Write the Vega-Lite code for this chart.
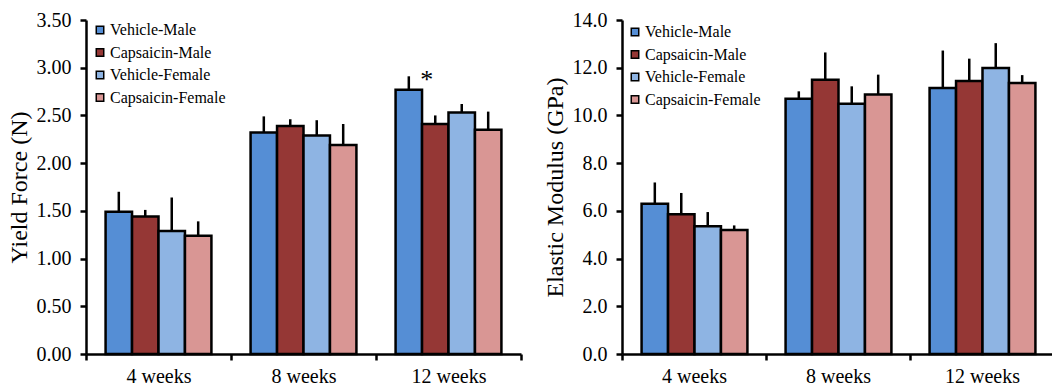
{
  "$schema": "https://vega.github.io/schema/vega-lite/v6.json",
  "background": "white",
  "padding": {"left": 7, "top": 10, "right": 2, "bottom": 0},
  "spacing": 20,
  "config": {
    "view": {"stroke": null},
    "font": "Liberation Serif",
    "axis": {
      "domainColor": "black", "domainWidth": 2.5, "tickColor": "black", "tickWidth": 2.5, "tickSize": 6,
      "labelColor": "black", "titleColor": "black", "labelFont": "Liberation Serif", "titleFont": "Liberation Serif",
      "grid": false, "labelFontSize": 20, "titleFontSize": 24, "titleFontWeight": "normal"
    },
    "legend": {
      "labelFont": "Liberation Serif", "labelFontSize": 16, "labelColor": "black",
      "symbolType": "square", "symbolSize": 56, "symbolStrokeColor": "black", "symbolStrokeWidth": 1.5,
      "rowPadding": 6.5, "padding": 0, "labelOffset": 2, "title": null
    }
  },
  "resolve": {"legend": {"color": "independent"}},
  "hconcat": [
    {
      "width": 435, "height": 334,
      "data": {"values": [
        {"week": "4 weeks", "group": "Vehicle-Male", "value": 1.49, "upper": 1.70},
        {"week": "4 weeks", "group": "Capsaicin-Male", "value": 1.44, "upper": 1.51},
        {"week": "4 weeks", "group": "Vehicle-Female", "value": 1.29, "upper": 1.64},
        {"week": "4 weeks", "group": "Capsaicin-Female", "value": 1.24, "upper": 1.39},
        {"week": "8 weeks", "group": "Vehicle-Male", "value": 2.32, "upper": 2.49},
        {"week": "8 weeks", "group": "Capsaicin-Male", "value": 2.39, "upper": 2.46},
        {"week": "8 weeks", "group": "Vehicle-Female", "value": 2.29, "upper": 2.45},
        {"week": "8 weeks", "group": "Capsaicin-Female", "value": 2.19, "upper": 2.41},
        {"week": "12 weeks", "group": "Vehicle-Male", "value": 2.77, "upper": 2.91},
        {"week": "12 weeks", "group": "Capsaicin-Male", "value": 2.41, "upper": 2.50},
        {"week": "12 weeks", "group": "Vehicle-Female", "value": 2.53, "upper": 2.62},
        {"week": "12 weeks", "group": "Capsaicin-Female", "value": 2.35, "upper": 2.54}
      ]},
      "encoding": {
        "x": {"field": "week", "type": "nominal", "sort": ["4 weeks", "8 weeks", "12 weeks"],
          "scale": {"paddingInner": 0, "paddingOuter": 0},
          "axis": {"title": null, "labelAngle": 0, "tickBand": "extent", "labelPadding": 6}},
        "xOffset": {"field": "group", "type": "nominal",
          "sort": ["Vehicle-Male", "Capsaicin-Male", "Vehicle-Female", "Capsaicin-Female"],
          "scale": {"paddingInner": 0, "paddingOuter": 0.74}}
      },
      "layer": [
        {
          "mark": {"type": "bar", "stroke": "black", "strokeWidth": 2.5},
          "encoding": {
            "y": {"field": "value", "type": "quantitative", "scale": {"domain": [0, 3.5], "nice": false},
              "axis": {"title": "Yield Force (N)", "values": [0, 0.5, 1, 1.5, 2, 2.5, 3, 3.5], "format": ".2f", "labelPadding": 9, "titlePadding": 5}},
            "color": {"field": "group", "type": "nominal",
              "scale": {"domain": ["Vehicle-Male", "Capsaicin-Male", "Vehicle-Female", "Capsaicin-Female"],
                "range": ["#558ED5", "#953735", "#8EB4E3", "#D99694"]},
              "legend": {"orient": "none", "legendX": 6, "legendY": 2,
                "encode": {"symbols": {"update": {"stroke": {"value": "black"}, "strokeWidth": {"value": 1.5}}}}}}
          }
        },
        {
          "mark": {"type": "rule", "color": "black", "strokeWidth": 2.5},
          "encoding": {"y": {"field": "value", "type": "quantitative"}, "y2": {"field": "upper"}}
        },
        {
          "data": {"values": [{"week": "12 weeks", "group": "Vehicle-Male", "upper": 2.91, "label": "*"}]},
          "mark": {"type": "text", "fontSize": 26, "dx": 18, "dy": 12, "baseline": "alphabetic", "fill": "black", "color": "black", "font": "Liberation Serif"},
          "encoding": {"y": {"field": "upper", "type": "quantitative"}, "text": {"field": "label"}}
        }
      ]
    },
    {
      "width": 432, "height": 334,
      "data": {"values": [
        {"week": "4 weeks", "group": "Vehicle-Male", "value": 6.30, "upper": 7.19},
        {"week": "4 weeks", "group": "Capsaicin-Male", "value": 5.86, "upper": 6.75},
        {"week": "4 weeks", "group": "Vehicle-Female", "value": 5.36, "upper": 5.95},
        {"week": "4 weeks", "group": "Capsaicin-Female", "value": 5.20, "upper": 5.39},
        {"week": "8 weeks", "group": "Vehicle-Male", "value": 10.70, "upper": 11.01},
        {"week": "8 weeks", "group": "Capsaicin-Male", "value": 11.50, "upper": 12.64},
        {"week": "8 weeks", "group": "Vehicle-Female", "value": 10.49, "upper": 11.22},
        {"week": "8 weeks", "group": "Capsaicin-Female", "value": 10.88, "upper": 11.71},
        {"week": "12 weeks", "group": "Vehicle-Male", "value": 11.15, "upper": 12.72},
        {"week": "12 weeks", "group": "Capsaicin-Male", "value": 11.44, "upper": 12.38},
        {"week": "12 weeks", "group": "Vehicle-Female", "value": 11.99, "upper": 13.03},
        {"week": "12 weeks", "group": "Capsaicin-Female", "value": 11.36, "upper": 11.69}
      ]},
      "encoding": {
        "x": {"field": "week", "type": "nominal", "sort": ["4 weeks", "8 weeks", "12 weeks"],
          "scale": {"paddingInner": 0, "paddingOuter": 0},
          "axis": {"title": null, "labelAngle": 0, "tickBand": "extent", "labelPadding": 6}},
        "xOffset": {"field": "group", "type": "nominal",
          "sort": ["Vehicle-Male", "Capsaicin-Male", "Vehicle-Female", "Capsaicin-Female"],
          "scale": {"paddingInner": 0, "paddingOuter": 0.74}}
      },
      "layer": [
        {
          "mark": {"type": "bar", "stroke": "black", "strokeWidth": 2.5},
          "encoding": {
            "y": {"field": "value", "type": "quantitative", "scale": {"domain": [0, 14], "nice": false},
              "axis": {"title": "Elastic Modulus (GPa)", "values": [0, 2, 4, 6, 8, 10, 12, 14], "format": ".1f", "labelPadding": 9, "titlePadding": 5}},
            "color": {"field": "group", "type": "nominal",
              "scale": {"domain": ["Vehicle-Male", "Capsaicin-Male", "Vehicle-Female", "Capsaicin-Female"],
                "range": ["#558ED5", "#953735", "#8EB4E3", "#D99694"]},
              "legend": {"orient": "none", "legendX": 5, "legendY": 4,
                "encode": {"symbols": {"update": {"stroke": {"value": "black"}, "strokeWidth": {"value": 1.5}}}}}}
          }
        },
        {
          "mark": {"type": "rule", "color": "black", "strokeWidth": 2.5},
          "encoding": {"y": {"field": "value", "type": "quantitative"}, "y2": {"field": "upper"}}
        }
      ]
    }
  ]
}
